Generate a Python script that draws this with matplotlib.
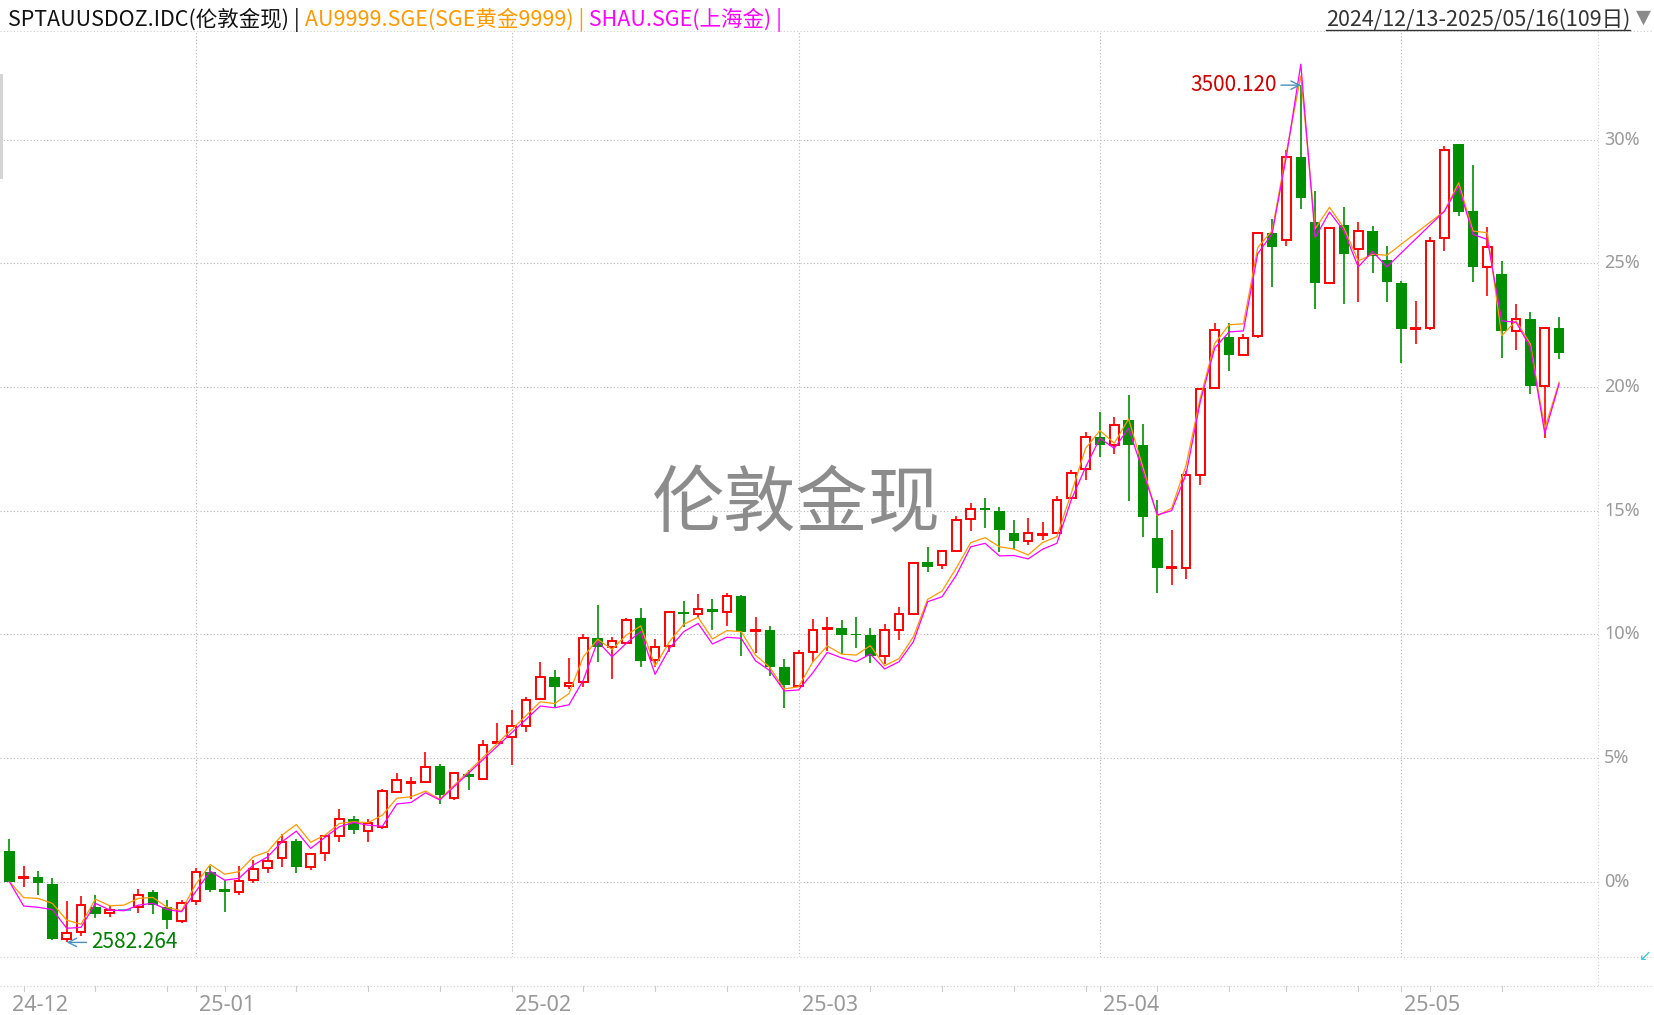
import matplotlib.pyplot as plt
from matplotlib.lines import Line2D
from matplotlib.patches import Rectangle
import numpy as np
import pandas as pd

plt.rcParams['font.family'] = ['Noto Sans CJK SC', 'DejaVu Sans']

# spot trading days (no Jan 1, no Good Friday)
start_day = '2024-12-13'
end_day = '2025-05-16'
spot_closed = ['2025-01-01', '2025-04-18']

# London spot candles, % vs first close
opens = [1.23, 0.13, 0.18, -0.10, -2.33, -2.02, -1.04, -1.29, -1.15, -1.04,
         -0.41, -1.04, -1.59, -0.80, 0.38, -0.30, -0.41, 0.05, 0.53, 0.94,
         1.64, 0.61, 1.14, 1.83, 2.53, 2.03, 2.22, 3.63, 3.99, 4.01,
         4.67, 3.39, 4.35, 4.16, 5.60, 5.86, 6.30, 7.37, 8.26, 7.90,
         8.06, 9.84, 9.47, 9.64, 10.65, 8.96, 9.51, 10.89, 10.81, 11.01,
         10.89, 11.55, 10.13, 10.17, 8.68, 7.92, 9.27, 10.22, 10.25, 10.00,
         9.97, 9.13, 10.16, 10.82, 12.92, 12.79, 13.36, 14.65, 15.11, 14.99,
         14.09, 13.76, 14.02, 14.09, 15.50, 16.67, 17.97, 17.67, 18.67, 17.65,
         13.88, 12.67, 12.70, 16.46, 19.97, 22.01, 21.29, 22.06, 26.23, 25.94,
         29.31, 26.69, 24.20, 26.54, 25.58, 26.30, 25.13, 24.21, 22.33, 22.38,
         26.04, 29.85, 27.11, 24.85, 24.56, 22.27, 22.75, 20.04, 22.39]
highs = [1.72, 0.63, 0.42, 0.13, -0.79, -0.60, -0.56, -0.99, -1.15, -0.32,
         -0.34, -0.75, -0.75, 0.53, 0.64, 0.06, 0.64, 0.87, 1.17, 1.91,
         1.72, 1.14, 1.88, 2.93, 2.65, 2.53, 3.74, 4.38, 4.21, 5.24,
         4.75, 4.44, 4.51, 5.72, 6.41, 6.94, 7.48, 8.88, 8.56, 9.03,
         10.01, 11.19, 9.88, 10.65, 11.06, 9.80, 10.93, 11.35, 11.63, 11.43,
         11.66, 11.60, 10.70, 10.34, 9.00, 9.36, 10.62, 10.71, 10.58, 10.71,
         10.27, 10.42, 11.12, 12.92, 13.53, 13.41, 14.79, 15.30, 15.51, 15.15,
         14.62, 14.70, 14.54, 15.58, 16.65, 18.17, 18.99, 18.79, 19.68, 18.51,
         15.43, 14.22, 16.62, 19.97, 22.59, 22.59, 22.13, 26.23, 26.81, 29.57,
         32.21, 27.91, 26.45, 27.30, 26.66, 26.50, 25.69, 24.30, 23.49, 26.05,
         29.73, 29.85, 28.97, 26.47, 25.10, 23.37, 23.05, 22.39, 22.85]
lows = [0.00, -0.21, -0.53, -2.37, -2.46, -2.19, -1.46, -1.42, -1.15, -1.26,
        -1.33, -1.93, -1.69, -0.95, -0.41, -1.22, -0.55, -0.07, 0.33, 0.60,
        0.36, 0.47, 0.83, 1.61, 1.93, 1.61, 2.11, 3.59, 3.34, 4.00,
        3.15, 3.30, 3.70, 4.11, 5.56, 4.73, 6.06, 7.33, 7.07, 7.77,
        7.86, 8.89, 8.20, 9.60, 8.69, 8.69, 9.30, 10.28, 10.69, 10.17,
        10.35, 9.13, 9.23, 8.31, 7.03, 7.88, 8.89, 9.34, 9.20, 9.43,
        8.83, 8.79, 9.77, 10.78, 12.53, 12.65, 13.36, 14.19, 14.31, 13.34,
        13.44, 13.62, 13.81, 14.05, 15.46, 16.24, 17.18, 17.31, 15.40, 13.95,
        11.68, 12.01, 12.23, 16.04, 19.97, 20.65, 21.29, 22.00, 24.03, 25.71,
        27.19, 23.14, 24.20, 23.36, 23.46, 24.63, 23.42, 20.97, 21.73, 22.31,
        25.50, 26.93, 24.23, 23.70, 21.17, 21.50, 19.70, 17.92, 21.13]
closes = [0.00, 0.17, -0.05, -2.34, -2.06, -0.96, -1.33, -1.15, -1.15, -0.56,
          -0.96, -1.56, -0.88, 0.37, -0.33, -0.41, 0.01, 0.49, 0.82, 1.59,
          0.60, 1.11, 1.84, 2.53, 2.10, 2.35, 3.66, 4.09, 4.03, 4.62,
          3.51, 4.38, 4.24, 5.51, 5.66, 6.28, 7.34, 8.26, 7.88, 8.02,
          9.84, 9.47, 9.72, 10.57, 8.91, 9.47, 10.89, 10.83, 11.01, 10.89,
          11.54, 10.11, 10.17, 8.69, 7.96, 9.23, 10.16, 10.27, 9.98, 9.96,
          9.13, 10.16, 10.81, 12.88, 12.73, 13.36, 14.61, 15.08, 15.04, 14.23,
          13.79, 14.09, 14.07, 15.42, 16.51, 17.97, 17.66, 18.45, 17.67, 14.76,
          12.69, 12.71, 16.43, 19.93, 22.30, 21.29, 21.97, 26.23, 25.67, 29.31,
          27.65, 24.22, 26.45, 25.40, 26.30, 25.32, 24.23, 22.34, 22.39, 25.89,
          29.60, 27.09, 24.87, 25.65, 22.25, 22.75, 20.04, 22.39, 21.37]

# SGE series, None = SGE closed
au9999 = [0.00, -0.65, -0.68, -0.88, -1.56, -1.72, -0.71, -0.98, -0.95, -0.68,
          -0.64, -1.04, -1.18, -0.10, 0.69, 0.30, 0.40, 1.00, 1.21, 1.88,
          2.31, 1.59, 1.88, 2.35, 2.42, 2.38, 2.69, 3.37, 3.43, 3.66,
          3.33, None, None, None, None, None, None, 7.27, 7.20, 7.60,
          9.09, 9.80, 9.39, 9.97, 10.34, 8.72, 9.70, 10.41, 10.69, 9.81,
          10.15, 10.11, 9.16, 8.66, 7.79, 7.88, 8.89, 9.53, 9.20, 9.16,
          9.54, 8.73, 9.02, 9.90, 11.42, 11.75, 12.69, 13.71, 13.91, 13.54,
          13.45, 13.21, 13.71, 13.95, 15.70, 17.52, 18.24, 17.73, 18.71, None,
          14.79, 15.10, 16.83, 19.57, 21.76, 22.52, 22.56, 25.64, 26.33, 29.50,
          32.59, 26.40, 27.27, 26.44, 25.10, 25.37, 25.33, None, None, None,
          27.11, 28.26, 26.31, 26.24, 22.08, 22.68, 21.74, 18.32, 20.20]
shau = [0.00, -0.99, -1.04, -1.13, -1.89, -1.85, -0.88, -1.15, -1.18, -0.95,
        -0.88, -1.13, -1.22, -0.40, 0.42, 0.06, 0.13, 0.67, 1.00, 1.61,
        2.04, 1.34, 1.79, 2.22, 2.39, 2.28, 2.24, 3.14, 3.20, 3.59,
        3.30, None, None, None, None, None, None, 7.10, 7.03, 7.15,
        8.15, 9.72, 9.09, 9.64, 10.11, 8.38, 9.43, 10.11, 10.44, 9.61,
        9.88, 9.84, 8.93, 8.53, 7.71, 7.75, 8.45, 9.27, 9.05, 8.89,
        9.20, 8.60, 8.89, 9.70, 11.32, 11.52, 12.40, 13.54, 13.68, 13.17,
        13.19, 13.05, 13.44, 13.68, 15.43, 16.76, 17.93, 17.52, 18.33, None,
        14.83, 15.00, 16.47, 19.42, 21.58, 22.23, 22.27, 25.40, 26.19, 29.35,
        33.06, 26.04, 27.08, 26.31, 24.86, 25.48, 24.86, None, None, None,
        27.11, 28.12, 26.17, 25.97, 22.68, 22.62, 21.61, 18.12, 20.13]

hi_text = '3500.120'
lo_text = '2582.264'
y_ticks = [0, 5, 10, 15, 20, 25, 30]

RED = '#ff0000'
GREEN = '#008f00'
GRID = '#b8b8b8'
W, H = 1654, 1015

days = pd.bdate_range(start_day, end_day).drop(pd.to_datetime(spot_closed))
n = len(days)
x = np.arange(n)
o = np.array(opens); h = np.array(highs); l = np.array(lows); c = np.array(closes)

fig = plt.figure(figsize=(W / 100, H / 100), dpi=100)
ax = fig.add_axes([0, 1 - 957 / H, 1598 / W, (957 - 31) / H])
ax.set_xlim(-0.65, 110.71)
ax.set_ylim(-3.05, 34.4)
ax.axis('off')

dot = (0, (1, 2))
for v in y_ticks:
    ax.axhline(v, color=GRID, lw=0.8, ls=dot, zorder=0)
    ax.text(1 + 6 / 1598, v, '%d%%' % v, transform=ax.get_yaxis_transform(),
            va='center', ha='left', fontsize=13, color='#9a9a9a',
            family=['Noto Sans', 'DejaVu Sans'], clip_on=False)

month_start = [i for i in range(n) if i == 0 or days[i].month != days[i - 1].month]
mondays = [i for i in range(n) if days[i].weekday() == 0]
for i in month_start[1:]:
    ax.axvline(i, color=GRID, lw=0.8, ls=dot, zorder=0)
xt = ax.get_xaxis_transform()
for i in month_start:
    ax.text(i + 3 / 14.35, -0.052, days[i].strftime('%y-%m'), transform=xt,
            ha='left', va='center', fontsize=15.5, color='#999999',
            family=['Noto Sans', 'DejaVu Sans'], clip_on=False)
for i in sorted(set(mondays + month_start[1:])):
    ax.plot([i, i], [-0.0313, -0.037], transform=xt, color='#cccccc', lw=0.8,
            clip_on=False)

# candles
up = c >= o
flat = (h == l)
dn = ~up & ~flat
ax.vlines(x[dn], l[dn], h[dn], color=GREEN, lw=1.2, zorder=2)
ax.bar(x[dn], (o - c)[dn], bottom=c[dn], width=0.74, color=GREEN, lw=0, zorder=2)
ru = up & ~flat
top = np.maximum(o, c); bot = np.minimum(o, c)
ax.vlines(x[ru], top[ru], h[ru], color=RED, lw=1.2, zorder=2)
ax.vlines(x[ru], l[ru], bot[ru], color=RED, lw=1.2, zorder=2)
ax.bar(x[ru], np.maximum((c - o)[ru], 0.02), bottom=o[ru], width=0.6,
       facecolor='white', edgecolor=RED, lw=1.4, zorder=2)
ax.hlines(c[flat], x[flat] - 0.45, x[flat] + 0.45, color='#3399cc', lw=1.2, zorder=2)

# SGE lines
for vals, col in [(au9999, '#ff9900'), (shau, '#ff00ff')]:
    arr = np.array([np.nan if v is None else v for v in vals])
    m = ~np.isnan(arr)
    ax.plot(x[m], arr[m], color=col, lw=0.9, zorder=3)

# max / min labels
hi_i = int(np.argmax(h)); lo_i = int(np.argmin(l))
ax.annotate(hi_text, xy=(hi_i, h[hi_i]), xytext=(-24, 0), textcoords='offset pixels',
            ha='right', va='center', color='#cc0000', fontsize=15,
            arrowprops=dict(arrowstyle='->', color='#4a90c0', lw=1, shrinkA=1, shrinkB=0),
            zorder=4)
ax.annotate(lo_text, xy=(lo_i, l[lo_i]), xytext=(24, 0), textcoords='offset pixels',
            ha='left', va='center', color='#008000', fontsize=15,
            arrowprops=dict(arrowstyle='->', color='#4a90c0', lw=1, shrinkA=1, shrinkB=0),
            zorder=4)

# watermark
ax.text(796 / W, 1 - 505 / H, '伦敦金现', transform=fig.transFigure, ha='center',
        va='center', fontsize=52, color='#8c8c8c', zorder=1)

# frame lines
for yy in [31, 957, 986]:
    fig.add_artist(Line2D([0, 1], [1 - yy / H] * 2, color='#cfcfcf', lw=0.8, ls=dot))
fig.add_artist(Line2D([1598 / W] * 2, [1 - 31 / H, 1 - 986 / H], color='#cfcfcf', lw=0.8, ls=dot))
fig.add_artist(Rectangle((0, 1 - 179 / H), 3 / W, 105 / H, transform=fig.transFigure,
                         color='#d4d4d4', lw=0))

# header
base_y = 1 - 26 / H
t1 = fig.text(8 / W, base_y, 'SPTAUUSDOZ.IDC(伦敦金现) |', fontsize=15.5,
              color='#111111', va='baseline')
t2 = ax.annotate(' AU9999.SGE(SGE黄金9999) |', xy=(1, 0), xycoords=t1, va='bottom',
                 ha='left', fontsize=15.5, color='#ff9900', annotation_clip=False)
t3 = ax.annotate(' SHAU.SGE(上海金) |', xy=(1, 0), xycoords=t2, va='bottom',
                 ha='left', fontsize=15.5, color='#ff00ff', annotation_clip=False)
tr = fig.text(1630 / W, base_y, '2024/12/13-2025/05/16(109日)', fontsize=15.5,
              color='#333333', va='baseline', ha='right')
fig.text(1643 / W, 1 - 17 / H, '▼', fontsize=14, color='#8a8a8a', ha='center',
         va='center', family='DejaVu Sans')
fig.text(1645 / W, 1 - 955 / H, '↙', fontsize=11, color='#40c0d0', ha='center',
         va='center', family='DejaVu Sans')

fig.canvas.draw()
bb = tr.get_window_extent()
fig.add_artist(Line2D([bb.x0 / W, bb.x1 / W], [1 - 29.5 / H] * 2, color='#333333', lw=1))

fig.savefig('out.png', dpi=100)
